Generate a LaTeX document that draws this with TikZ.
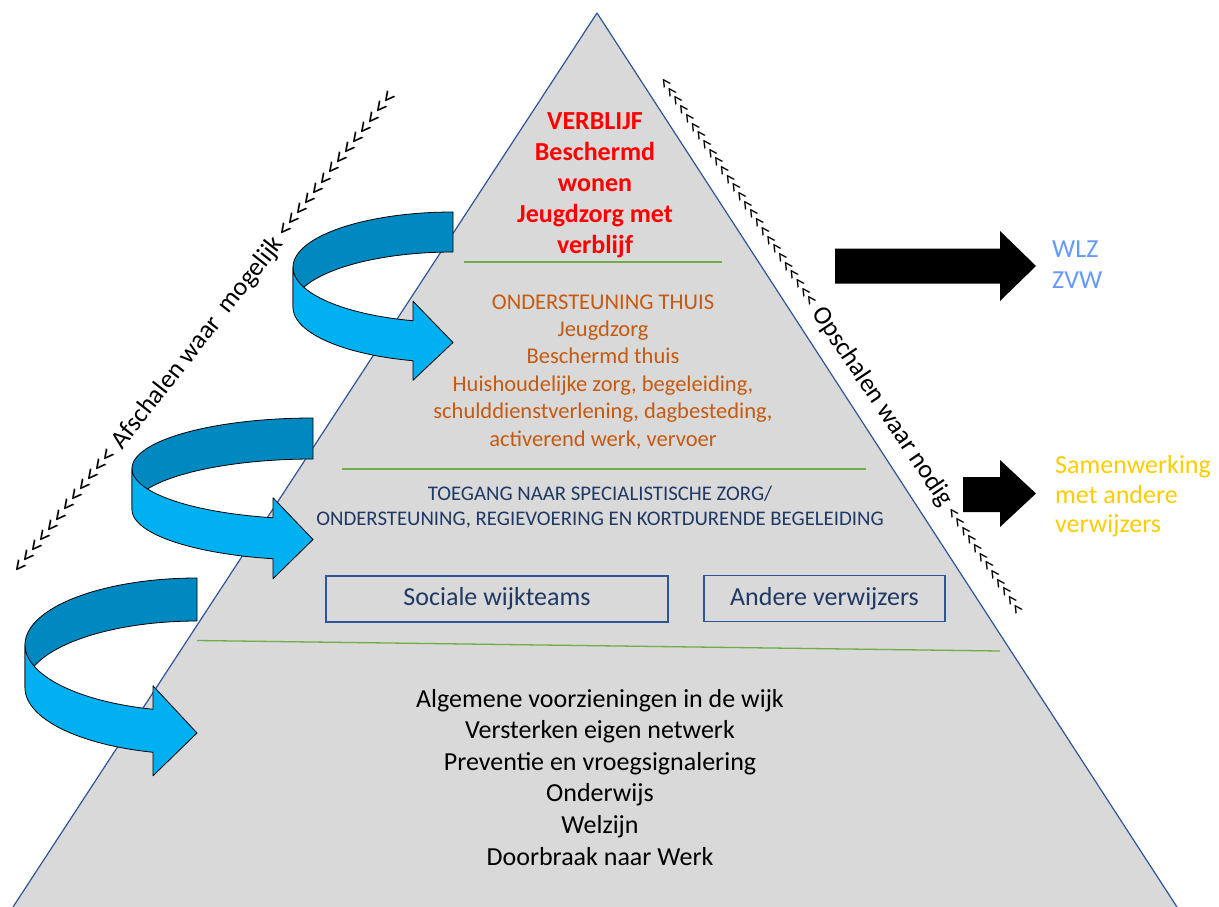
\documentclass[tikz,border=0pt]{standalone}
\usepackage{fontspec}
\setmainfont{Carlito}
\newfontfamily\chevfont{Carlito}
\definecolor{pyrfill}{RGB}{217,217,217}
\definecolor{pyredge}{RGB}{47,85,151}
\definecolor{grn}{RGB}{112,173,71}
\definecolor{orng}{RGB}{197,90,17}
\definecolor{navy}{RGB}{32,56,100}
\definecolor{lblue}{RGB}{0,176,240}
\definecolor{dblue}{RGB}{0,137,192}
\definecolor{wlzblue}{RGB}{102,153,255}
\definecolor{ylw}{RGB}{255,204,0}
\tikzset{
  arrback/.style={fill=dblue, draw=black, line width=0.8pt, line join=round},
  arrfront/.style={fill=lblue, draw=black, line width=0.8pt, line join=round},
  sepline/.style={draw=grn, line width=1.3pt},
  redtxt/.style={text=red, font=\fontsize{26}{31}\selectfont\bfseries, anchor=base, inner sep=0pt},
  orgtxt/.style={text=orng, font=\fontsize{22.5}{27}\selectfont, anchor=base, inner sep=0pt},
  navytxt/.style={text=navy, font=\fontsize{20.8}{25}\selectfont, anchor=base, inner sep=0pt},
  blktxt/.style={text=black, font=\fontsize{26}{31}\selectfont, anchor=base, inner sep=0pt},
  boxtxt/.style={draw=pyredge, line width=1.3pt, text=navy, font=\fontsize{26}{31}\selectfont, minimum height=46pt, inner sep=0pt},
  sidetxt/.style={font=\fontsize{26}{31}\selectfont, anchor=base west, inner sep=0pt},
  slanttxt/.style={text=black, font=\fontsize{26}{26}\selectfont, inner sep=0pt},
  blockarr/.style={fill=black}
}
% curved right arrow: left, top, width, height, band thickness, head width, head length
\newcommand\curvarrow[7]{%
  \pgfmathsetmacro\caL{#1}%
  \pgfmathsetmacro\caT{#2}%
  \pgfmathsetmacro\caW{#3}%
  \pgfmathsetmacro\caH{#4}%
  \pgfmathsetmacro\caTh{#5}%
  \pgfmathsetmacro\caAw{#6}%
  \pgfmathsetmacro\caAh{#7}%
  \pgfmathsetmacro\caR{\caL+\caW}%
  \pgfmathsetmacro\caHR{\caH/2-(\caTh+\caAw)/4}%
  \pgfmathsetmacro\caA{\caT+\caHR}%
  \pgfmathsetmacro\caB{\caA+\caTh}%
  \pgfmathsetmacro\caE{acos(-\caAh/\caW)}%
  \pgfmathsetmacro\caDy{\caHR*sin(\caE)}%
  \pgfmathsetmacro\caXi{\caR-\caAh}%
  \pgfmathsetmacro\caYv{\caA+\caDy}%
  \pgfmathsetmacro\caYvii{\caYv+\caTh}%
  \pgfmathsetmacro\caDh{(\caAw-\caTh)/2}%
  \pgfmathsetmacro\caYiv{\caYv-\caDh}%
  \pgfmathsetmacro\caYviii{\caYvii+\caDh}%
  \pgfmathsetmacro\caYvi{\caT+\caH-\caAw/2}%
  \filldraw[arrback] plot[domain=270:180,samples=50,variable=\t] ({\caR+\caW*cos(\t)},{\caA+\caHR*sin(\t)})
     -- plot[domain=180:270,samples=50,variable=\t] ({\caR+\caW*cos(\t)},{\caB+\caHR*sin(\t)}) -- cycle;
  \filldraw[arrfront] plot[domain=180:\caE,samples=50,variable=\t] ({\caR+\caW*cos(\t)},{\caA+\caHR*sin(\t)})
     -- (\caXi,\caYiv) -- (\caR,\caYvi) -- (\caXi,\caYviii) -- (\caXi,\caYvii)
     -- plot[domain=\caE:180,samples=50,variable=\t] ({\caR+\caW*cos(\t)},{\caB+\caHR*sin(\t)}) -- cycle;
}
\begin{document}
\begin{tikzpicture}[x=1pt,y=-1pt]
\useasboundingbox (0,0) rectangle (1219,907);
% pyramid
\fill[pyrfill] (597,13) -- (13,907) -- (1177,907) -- cycle;
\draw[pyredge, line width=1.2pt, line join=round] (13,907) -- (597,13) -- (1177,907);
% separator lines
\draw[sepline] (464,262) -- (722,262);
\draw[sepline] (342,469) -- (866,469);
\draw[sepline] (197,640.5) -- (1000,651);
% red block
\foreach \txt [count=\i] in {VERBLIJF,Beschermd,wonen,Jeugdzorg met,verblijf}
  \node[redtxt] (red\i) at (595,{129+31*(\i-1)}) {\txt};
% orange block
\foreach \txt [count=\i] in {ONDERSTEUNING THUIS,Jeugdzorg,Beschermd thuis,{Huishoudelijke zorg, begeleiding,},{schulddienstverlening, dagbesteding,},{activerend werk, vervoer}}
  \node[orgtxt] (org\i) at (603,{309+27.4*(\i-1)}) {\txt};
% navy block
\node[navytxt] (tg1) at (600,500) {TOEGANG NAAR SPECIALISTISCHE ZORG/};
\node[navytxt] (tg2) at (600,525) {ONDERSTEUNING, REGIEVOERING EN KORTDURENDE BEGELEIDING};
% boxes
\node[boxtxt, minimum width=342pt] (sw) at (497,599) {Sociale wijkteams};
\node[boxtxt, minimum width=241pt] (av) at (824.5,598.5) {Andere verwijzers};
% bottom block
\foreach \txt [count=\i] in {Algemene voorzieningen in de wijk,Versterken eigen netwerk,Preventie en vroegsignalering,Onderwijs,Welzijn,Doorbraak naar Werk}
  \node[blktxt] (alg\i) at (600,{707+31.6*(\i-1)}) {\txt};
% right side texts
\node[sidetxt, text=wlzblue] (wlz) at (1052,257) {WLZ};
\node[sidetxt, text=wlzblue] (zvw) at (1052,288) {ZVW};
\node[sidetxt, text=ylw] (sam1) at (1055,473) {Samenwerking};
\node[sidetxt, text=ylw] (sam2) at (1055,503) {met andere};
\node[sidetxt, text=ylw] (sam3) at (1055,532) {verwijzers};
% block arrows
\fill[blockarr] (835,248.5) -- (1000,248.5) -- (1000,231) -- (1036,266) -- (1000,301) -- (1000,283.5) -- (835,283.5) -- cycle;
\fill[blockarr] (963,477) -- (1000,477) -- (1000,460) -- (1036,493.5) -- (1000,527) -- (1000,512) -- (963,512) -- cycle;
% slanted texts
\node[slanttxt, rotate=51.8] (afs) at (206,333) {{\chevfont <<<<<<<<<<<<} Afschalen waar~~mogelijk {\chevfont <<<<<<<<<<<<<<}};
\node[slanttxt, rotate=-56.2] (ops) at (841.5,346) {{\chevfont\fontsize{21}{21}\selectfont <<<<<<<<<<<<<<<<<<<<<<<<<<} Opschalen waar nodig {\chevfont\fontsize{21}{21}\selectfont <<<<<<<<<<<<}};
% curved arrows
\curvarrow{293}{212}{160}{170}{40}{79}{40}
\curvarrow{132}{418}{181}{162}{41}{81}{40}
\curvarrow{25}{578}{172}{200}{43}{90}{44}
\end{tikzpicture}
\end{document}
